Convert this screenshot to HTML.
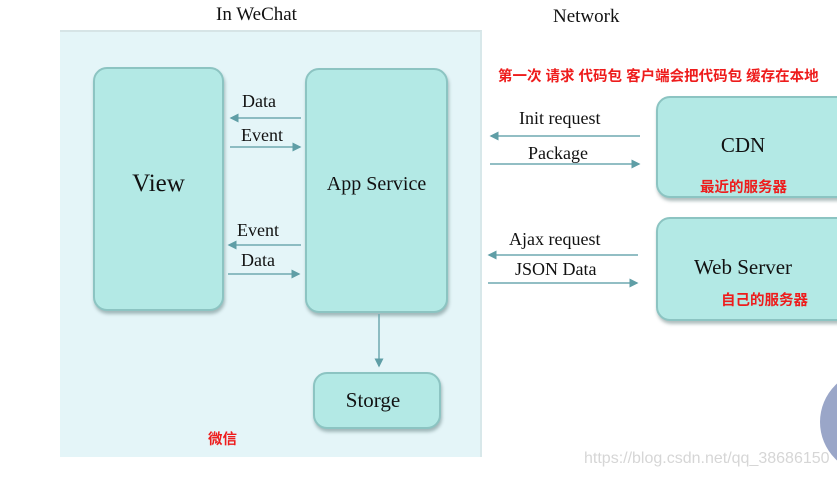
<!DOCTYPE html>
<html><head><meta charset="utf-8">
<style>
html,body{margin:0;padding:0;}
body{width:837px;height:480px;position:relative;overflow:hidden;background:#fff;font-family:"Liberation Serif",serif;color:#111;}
.abs{position:absolute;}
.panel{left:60px;top:30px;width:420px;height:425px;background:#e4f5f8;border-top:2px solid #d6e4e6;border-right:2px solid #d8e8ea;}
.box{position:absolute;background:#b3e9e5;border:2px solid #8cc4c2;border-radius:14px;box-shadow:1px 3px 3px rgba(80,110,110,0.45);display:flex;align-items:center;justify-content:center;box-sizing:border-box;}
.lbl{position:absolute;font-size:18px;white-space:nowrap;}
.red{position:absolute;color:#ee1c1c;font-family:"Liberation Sans","Noto Sans CJK SC",sans-serif;font-weight:bold;font-size:14.5px;white-space:nowrap;}
</style></head><body>
<div class="abs panel"></div>
<div class="lbl" style="left:216px;top:4px;font-size:19px;">In WeChat</div>
<div class="lbl" style="left:553px;top:6px;font-size:19px;">Network</div>

<div class="box" style="left:93px;top:67px;width:131px;height:244px;font-size:25px;padding-bottom:10px;">View</div>
<div class="box" style="left:305px;top:68px;width:143px;height:245px;font-size:20px;padding-bottom:12px;">App Service</div>
<div class="box" style="left:313px;top:372px;width:128px;height:57px;font-size:21px;padding-right:8px;">Storge</div>
<div class="box" style="left:656px;top:96px;width:200px;height:102px;font-size:21px;padding-right:26px;padding-bottom:4px;">CDN</div>
<div class="box" style="left:656px;top:217px;width:200px;height:104px;font-size:21px;padding-right:26px;padding-bottom:4px;">Web Server</div>

<div class="lbl" style="left:242px;top:91px;">Data</div>
<div class="lbl" style="left:241px;top:125px;">Event</div>
<div class="lbl" style="left:237px;top:220px;">Event</div>
<div class="lbl" style="left:241px;top:250px;">Data</div>
<div class="lbl" style="left:519px;top:108px;">Init request</div>
<div class="lbl" style="left:528px;top:143px;">Package</div>
<div class="lbl" style="left:509px;top:229px;">Ajax request</div>
<div class="lbl" style="left:515px;top:259px;">JSON Data</div>

<svg class="abs" style="left:0;top:0" width="837" height="480">
<defs><marker id="a" markerWidth="6" markerHeight="6" refX="5" refY="3" orient="auto"><path d="M0,0 L6,3 L0,6 z" fill="#5f9ea6"/></marker></defs>
<g stroke="#6ea9b0" stroke-width="1.5" marker-end="url(#a)">
<line x1="301" y1="118" x2="231" y2="118"/>
<line x1="230" y1="147" x2="300" y2="147"/>
<line x1="301" y1="245" x2="229" y2="245"/>
<line x1="228" y1="274" x2="299" y2="274"/>
<line x1="640" y1="136" x2="491" y2="136"/>
<line x1="490" y1="164" x2="639" y2="164"/>
<line x1="638" y1="255" x2="489" y2="255"/>
<line x1="488" y1="283" x2="637" y2="283"/>
<line x1="379" y1="314" x2="379" y2="366"/>
</g>
<circle cx="872" cy="422" r="52" fill="#9aa6c8"/>
</svg>

<div class="red" style="left:498px;top:65px;">第一次 请求 代码包 客户端会把代码包 缓存在本地</div>
<div class="red" style="left:700px;top:176px;">最近的服务器</div>
<div class="red" style="left:721px;top:289px;">自己的服务器</div>
<div class="red" style="left:208px;top:428px;">微信</div>
<div class="abs" style="left:584px;top:450px;font-family:'Liberation Sans',sans-serif;font-size:16px;color:#d6d6d6;">https://blog.csdn.net/qq_38686150</div>
</body></html>
